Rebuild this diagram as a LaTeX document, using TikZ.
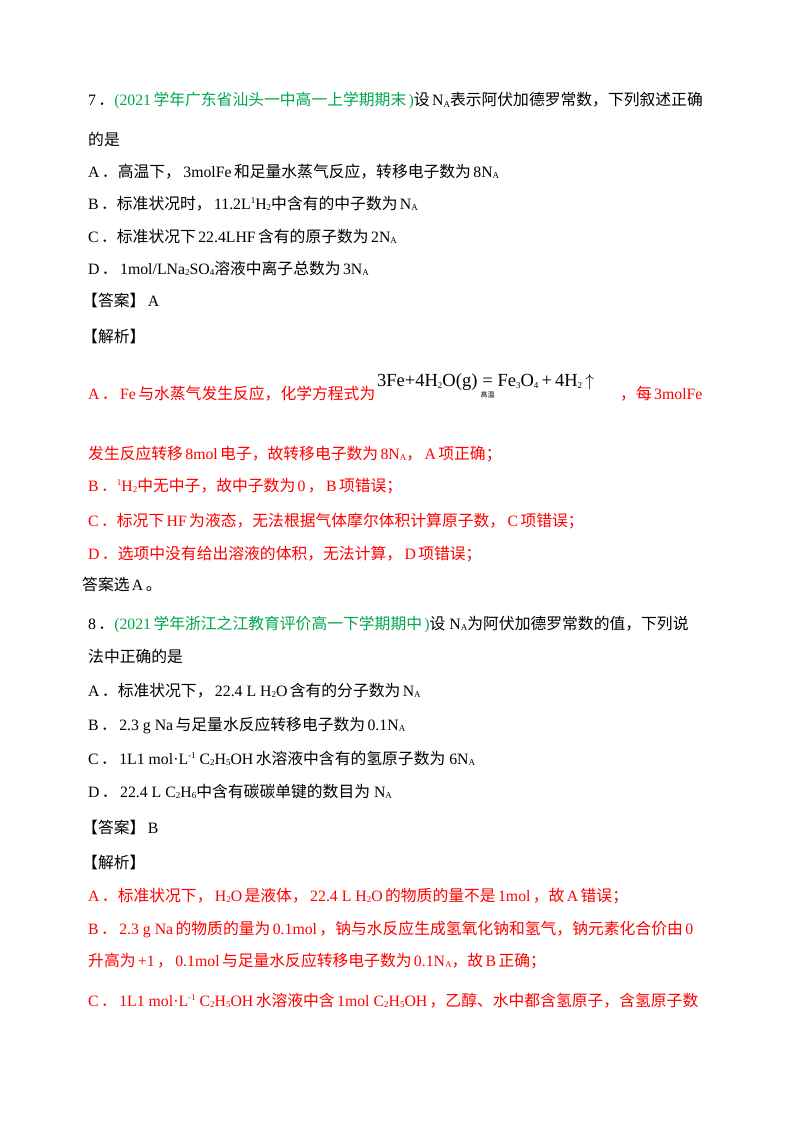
\documentclass[tikz,border=0pt]{standalone}
\usepackage{fontspec}
\setmainfont{Liberation Serif}
\newfontfamily\cjk{Noto Sans CJK SC}
\newcount\cc
\cc="3000 \loop \XeTeXcharclass\cc=7 \advance\cc1 \ifnum\cc<"3040 \repeat
\cc="4E00 \loop \XeTeXcharclass\cc=7 \advance\cc1 \ifnum\cc<"A000 \repeat
\cc="FF00 \loop \XeTeXcharclass\cc=7 \advance\cc1 \ifnum\cc<"FFF0 \repeat
\XeTeXinterchartokenstate=1
\XeTeXinterchartoks 0 7 {\hskip0.15em\cjk}
\XeTeXinterchartoks 4095 7 {\cjk}
\XeTeXinterchartoks 7 0 {\rmfamily\hskip0.15em}
\XeTeXinterchartoks 7 4095 {\rmfamily}
\definecolor{src}{RGB}{0,166,80}
\definecolor{ans}{RGB}{255,0,0}
\newcommand{\sub}[1]{\raisebox{-0.25ex}{\fontsize{9}{9}\selectfont #1}}
\newcommand{\supx}[1]{\raisebox{0.8ex}{\fontsize{9}{9}\selectfont #1}}
\newcommand{\NA}{N\sub{A}}
\begin{document}
\begin{tikzpicture}[x=1pt,y=-1pt,
  ln/.style={anchor=base west,inner sep=0pt,font=\fontsize{15.8}{18}\selectfont},
  rd/.style={ln,text=ans}]
\useasboundingbox[fill=white] (0,0) rectangle (800,1129);
\node[ln] (l1) at (88,106) {7．\textcolor{src}{(2021学年广东省汕头一中高一上学期期末)}设\NA 表示阿伏加德罗常数，下列叙述正确};
\node[ln] (l2) at (88,146) {的是};
\node[ln] (l3) at (88,177) {A．高温下，3molFe和足量水蒸气反应，转移电子数为8\NA};
\node[ln] (l4) at (88,209) {B．标准状况时，11.2L\supx{1}H\sub{2}中含有的中子数为\NA};
\node[ln] (l5) at (88,242) {C．标准状况下22.4LHF含有的原子数为2\NA};
\node[ln] (l6) at (88,274) {D．1mol/LNa\sub{2}SO\sub{4}溶液中离子总数为3\NA};
\node[ln] (l7) at (82,306) {【答案】A};
\node[ln] (l8) at (82,342) {【解析】};
\node[rd] (l9) at (88,399) {A．Fe与水蒸气发生反应，化学方程式为};
\node[anchor=base west,inner sep=0pt,font=\fontsize{18.5}{19}\selectfont] (eq) at (377,386)
 {3Fe+4H\sub{2}O(g)\,\begin{tabular}[t]{@{}c@{}}=\\[-8pt]{\cjk\fontsize{7}{7}\selectfont 高温}\end{tabular}\,Fe\sub{3}O\sub{4}\,+\,4H\sub{2}\,$\uparrow$};
\node[rd] (l9b) at (620,399) {，每3molFe};
\node[rd] (l10) at (88,459) {发生反应转移8mol电子，故转移电子数为8\NA，A项正确；};
\node[rd] (l11) at (88,491) {B．\supx{1}H\sub{2}中无中子，故中子数为0，B项错误；};
\node[rd] (l12) at (88,526) {C．标况下HF为液态，无法根据气体摩尔体积计算原子数，C项错误；};
\node[rd] (l13) at (88,559) {D．选项中没有给出溶液的体积，无法计算，D项错误；};
\node[ln,text=black] (l14) at (82,590) {答案选A。};
\node[ln] (l15) at (88,629) {8．\textcolor{src}{(2021学年浙江之江教育评价高一下学期期中)}设 \NA 为阿伏加德罗常数的值，下列说};
\node[ln] (l16) at (88,662) {法中正确的是};
\node[ln] (l17) at (88,696) {A．标准状况下，22.4 L H\sub{2}O含有的分子数为\NA};
\node[ln] (l18) at (88,730) {B．2.3 g Na与足量水反应转移电子数为0.1\NA};
\node[ln] (l19) at (88,764) {C．1L1 mol·L\supx{-1} C\sub{2}H\sub{5}OH水溶液中含有的氢原子数为 6\NA};
\node[ln] (l20) at (88,797) {D．22.4 L C\sub{2}H\sub{6}中含有碳碳单键的数目为 \NA};
\node[ln] (l21) at (82,833) {【答案】B};
\node[ln] (l22) at (82,868) {【解析】};
\node[rd] (l23) at (88,901) {A．标准状况下，H\sub{2}O是液体，22.4 L H\sub{2}O的物质的量不是1mol，故A错误；};
\node[rd] (l24) at (88,934) {B．2.3 g Na的物质的量为0.1mol，钠与水反应生成氢氧化钠和氢气，钠元素化合价由0};
\node[rd] (l25) at (88,966) {升高为+1，0.1mol与足量水反应转移电子数为0.1\NA，故B正确；};
\node[rd] (l26) at (88,1006) {C．1L1 mol·L\supx{-1} C\sub{2}H\sub{5}OH水溶液中含1mol C\sub{2}H\sub{5}OH，乙醇、水中都含氢原子，含氢原子数};
\end{tikzpicture}
\end{document}
